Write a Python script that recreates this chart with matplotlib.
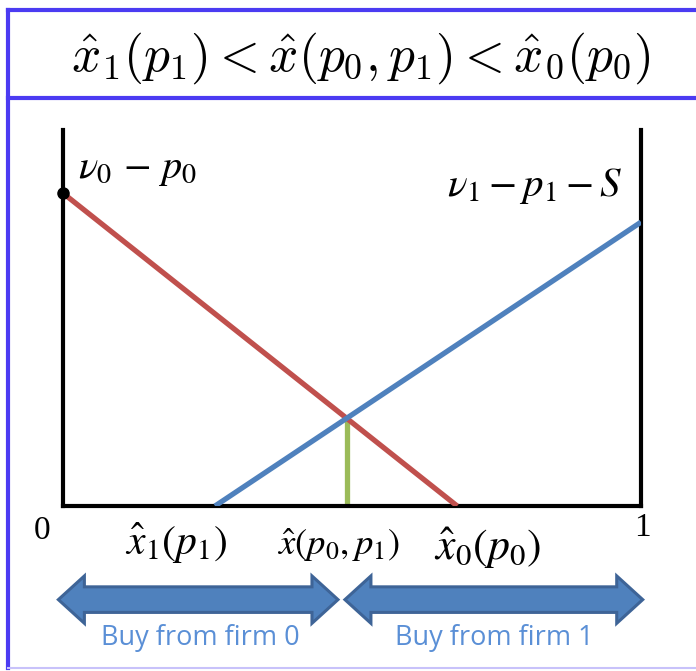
import numpy as np
import matplotlib
matplotlib.use("Agg")
import matplotlib.pyplot as plt
from matplotlib.patches import Polygon
from matplotlib.lines import Line2D

# data (x in [0,1], y in axis units)
x1_hat = 0.263          # where firm 1 line meets zero
x0_hat = 0.682          # where firm 0 line meets zero
v0_p0 = 0.832           # intercept of firm 0 surplus at x=0
v1_right = 0.755        # firm 1 surplus at x=1

# lines
red_x = [0, x0_hat]
red_y = [v0_p0, 0]
blue_x = [x1_hat, 1]
blue_y = [0, v1_right]

# intersection of the two lines
sr = -v0_p0 / x0_hat
sb = v1_right / (1 - x1_hat)
x_mid = (v0_p0 + sb * x1_hat) / (sb - sr)
y_mid = v0_p0 + sr * x_mid

W, H = 696, 671
fig = plt.figure(figsize=(W / 100, H / 100), dpi=100)

def fx(px):
    return px / W

def fy(py):
    return 1 - py / H

ax = fig.add_axes([fx(63), fy(506), fx(641) - fx(63), fy(130) - fy(506)])
ax.set_xlim(0, 1)
ax.set_ylim(0, 1)
ax.set_xticks([])
ax.set_yticks([])
ax.spines["top"].set_visible(False)
for s in ["left", "right", "bottom"]:
    ax.spines[s].set_linewidth(3)
    ax.spines[s].set_color("black")

ax.plot(red_x, red_y, color="#C0504D", lw=3.8, solid_capstyle="butt", zorder=3)
ax.plot(blue_x, blue_y, color="#4F81BD", lw=3.8, solid_capstyle="butt", zorder=3)
ax.plot([x_mid, x_mid], [0, y_mid - 0.005], color="#9BBB59", lw=3.8, solid_capstyle="butt", zorder=2)
ax.plot([0], [v0_p0], "o", color="black", ms=8, clip_on=False, zorder=5)

# double block arrows under the axis
def darrow(x_start, x_end, yc=-0.249, head_len=0.045, head_h=0.063, shaft_h=0.034):
    pts = [
        (x_start, yc),
        (x_start + head_len, yc + head_h),
        (x_start + head_len, yc + shaft_h),
        (x_end - head_len, yc + shaft_h),
        (x_end - head_len, yc + head_h),
        (x_end, yc),
        (x_end - head_len, yc - head_h),
        (x_end - head_len, yc - shaft_h),
        (x_start + head_len, yc - shaft_h),
        (x_start + head_len, yc - head_h),
    ]
    p = Polygon(pts, closed=True, facecolor="#4F81BD", edgecolor="#3E6497",
                lw=2.2, clip_on=False, joinstyle="miter")
    ax.add_patch(p)

darrow(-0.008, x_mid - 0.015)
darrow(x_mid - 0.003, 1.003)

ax.text(x_mid / 2 - 0.008, -0.352, "Buy from firm 0", ha="center", va="center",
        fontsize=19.5, color="#5A8FD6", family="Open Sans")
ax.text((x_mid + 1) / 2, -0.352, "Buy from firm 1", ha="center", va="center",
        fontsize=19.5, color="#5A8FD6", family="Open Sans")

# axis labels
ax.text(-0.036, -0.066, "0", ha="center", va="center", fontsize=24,
        family="Liberation Serif")
ax.text(1.002, -0.058, "1", ha="center", va="center", fontsize=24,
        family="Liberation Serif")
ax.text(0.196, -0.101, r"$\hat{x}_1(p_1)$", ha="center", va="center",
        fontsize=30, math_fontfamily="stix")
ax.text(0.476, -0.105, r"$\hat{x}(p_0,p_1)$", ha="center", va="center",
        fontsize=26.5, math_fontfamily="stix")
ax.text(0.734, -0.113, r"$\hat{x}_0(p_0)$", ha="center", va="center",
        fontsize=31.5, math_fontfamily="stix")

ax.text(0.026, 0.9, r"$\nu_0\,-\,p_0$", ha="left", va="center",
        fontsize=29, math_fontfamily="stix")
ax.text(0.664, 0.85, r"$\nu_1 - p_1 - S$", ha="left", va="center",
        fontsize=29.5, math_fontfamily="stix")

# title box
fig.text(fx(361), fy(58), r"$\hat{x}_1(p_1) < \hat{x}(p_0,p_1) < \hat{x}_0(p_0)$",
         ha="center", va="center", fontsize=37, math_fontfamily="cm")

border = "#4B3BF2"
fig.add_artist(Line2D([fx(8), fx(8)], [fy(10), fy(668)], color=border, lw=3))
fig.add_artist(Line2D([fx(8), 1], [fy(10), fy(10)], color=border, lw=3))
fig.add_artist(Line2D([fx(8), 1], [fy(98), fy(98)], color=border, lw=3))
fig.add_artist(Line2D([fx(8), 1], [fy(668), fy(668)], color="#C8C2FA", lw=1.5))

fig.savefig("out.png", dpi=100)
